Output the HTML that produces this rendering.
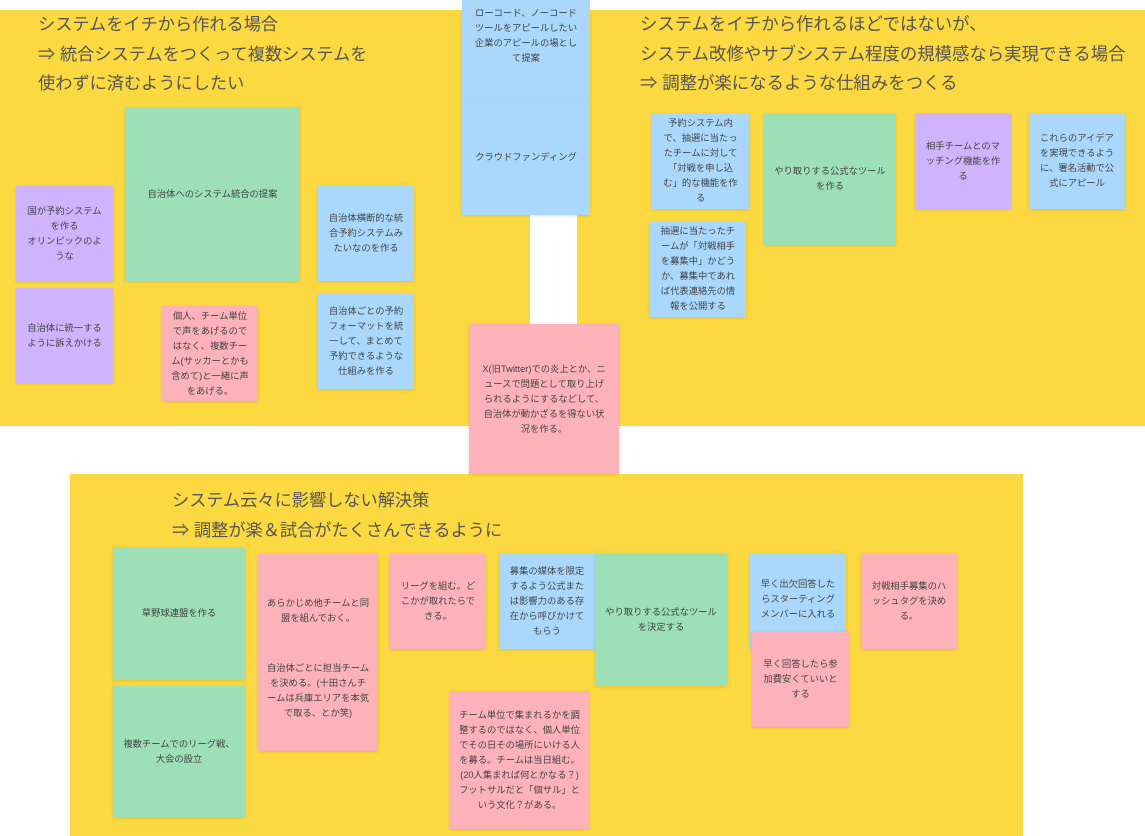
<!DOCTYPE html>
<html><head><meta charset="utf-8"><style>
*{margin:0;padding:0;box-sizing:border-box}
body{width:1145px;height:836px;background:#fff;position:relative;overflow:hidden;font-family:"Liberation Sans","Noto Sans CJK JP",sans-serif}
.f{position:absolute;background:#fcd940}
.t{position:absolute;font-size:17.2px;line-height:29.5px;color:#555;white-space:nowrap}
.n{position:absolute;display:flex;align-items:center;justify-content:center;text-align:center;font-size:9.3px;line-height:15px;color:#444;padding:4px 9px;box-shadow:0 1px 3px rgba(0,0,0,.12)}
.g{background:#9ddfb6}.b{background:#aad8fd}.p{background:#cfb3fc}.k{background:#fdb2ba}
</style></head><body>
<div class="f" style="left:0;top:10px;width:530px;height:416px"></div>
<div class="f" style="left:577px;top:10px;width:568px;height:416px"></div>
<div class="f" style="left:70px;top:474px;width:953px;height:362px"></div>

<div class="t" style="left:38px;top:10px">システムをイチから作れる場合<br>⇒ 統合システムをつくって複数システムを<br>使わずに済むようにしたい</div>
<div class="t" style="left:640px;top:10px;font-size:17.4px">システムをイチから作れるほどではないが、<br>システム改修やサブシステム程度の規模感なら実現できる場合<br>⇒ 調整が楽になるような仕組みをつくる</div>
<div class="t" style="left:172px;top:486px">システム云々に影響しない解決策<br>⇒ 調整が楽＆試合がたくさんできるように</div>

<div class="n b" style="left:462px;top:0;width:128px;height:100px;align-items:flex-start;padding-top:6px">ローコード、ノーコードツールをアピールしたい企業のアピールの場として提案</div>
<div class="n b" style="left:462px;top:100px;width:128px;height:115px">クラウドファンディング</div>
<div class="n p" style="left:16px;top:186px;width:97px;height:95px">国が予約システムを作る<br>オリンピックのような</div>
<div class="n p" style="left:16px;top:288px;width:97px;height:95px">自治体に統一するように訴えかける</div>
<div class="n g" style="left:125px;top:107px;width:175px;height:174px">自治体へのシステム統合の提案</div>
<div class="n b" style="left:318px;top:186px;width:96px;height:95px">自治体横断的な統合予約システムみたいなのを作る</div>
<div class="n b" style="left:318px;top:293px;width:96px;height:96px">自治体ごとの予約フォーマットを統一して、まとめて予約できるような仕組みを作る</div>
<div class="n k" style="left:162px;top:306px;width:96px;height:95px">個人、チーム単位で声をあげるのではなく、複数チーム(サッカーとかも含めて)と一緒に声をあげる。</div>
<div class="n k" style="left:469px;top:324px;width:150px;height:150px;padding:4px 12px">X(旧Twitter)での炎上とか、ニュースで問題として取り上げられるようにするなどして、自治体が動かざるを得ない状況を作る。</div>

<div class="n b" style="left:652px;top:113px;width:97px;height:96px">予約システム内で、抽選に当たったチームに対して「対戦を申し込む」的な機能を作る</div>
<div class="n b" style="left:650px;top:221px;width:96px;height:96px">抽選に当たったチームが「対戦相手を募集中」かどうか、募集中であれば代表連絡先の情報を公開する</div>
<div class="n g" style="left:764px;top:113px;width:132px;height:132px">やり取りする公式なツールを作る</div>
<div class="n p" style="left:915px;top:113px;width:96px;height:96px">相手チームとのマッチング機能を作る</div>
<div class="n b" style="left:1029px;top:113px;width:96px;height:96px">これらのアイデアを実現できるように、署名活動で公式にアピール</div>

<div class="n g" style="left:113px;top:547px;width:132px;height:133px">草野球連盟を作る</div>
<div class="n g" style="left:113px;top:686px;width:132px;height:131px">複数チームでのリーグ戦、大会の設立</div>
<div class="n k" style="left:258px;top:553px;width:120px;height:198px;box-shadow:0 1px 3px rgba(0,0,0,.12)"></div>
<div style="position:absolute;left:258px;top:596px;width:120px;text-align:center;font-size:9.3px;line-height:15px;color:#444;padding:0 8px">あらかじめ他チームと同盟を組んでおく。</div>
<div style="position:absolute;left:258px;top:661px;width:120px;text-align:center;font-size:9.3px;line-height:15px;color:#444;padding:0 8px">自治体ごとに担当チームを決める。(十田さんチームは兵庫エリアを本気で取る、とか笑)</div>
<div class="n k" style="left:390px;top:553px;width:96px;height:96px">リーグを組む。どこかが取れたらできる。</div>
<div class="n b" style="left:499px;top:553px;width:96px;height:96px">募集の媒体を限定するよう公式または影響力のある存在から呼びかけてもらう</div>
<div class="n g" style="left:595px;top:553px;width:132px;height:133px">やり取りする公式なツールを決定する</div>
<div class="n k" style="left:450px;top:691px;width:139px;height:138px">チーム単位で集まれるかを調整するのではなく、個人単位でその日その場所にいける人を募る。チームは当日組む。(20人集まれば何とかなる？)フットサルだと「個サル」という文化？がある。</div>
<div class="n b" style="left:750px;top:553px;width:96px;height:96px;align-items:flex-start;padding-top:24px">早く出欠回答したらスターティングメンバーに入れる</div>
<div class="n k" style="left:752px;top:631px;width:97px;height:96px">早く回答したら参加費安くていいとする</div>
<div class="n k" style="left:861px;top:553px;width:96px;height:96px">対戦相手募集のハッシュタグを決める。</div>
</body></html>
